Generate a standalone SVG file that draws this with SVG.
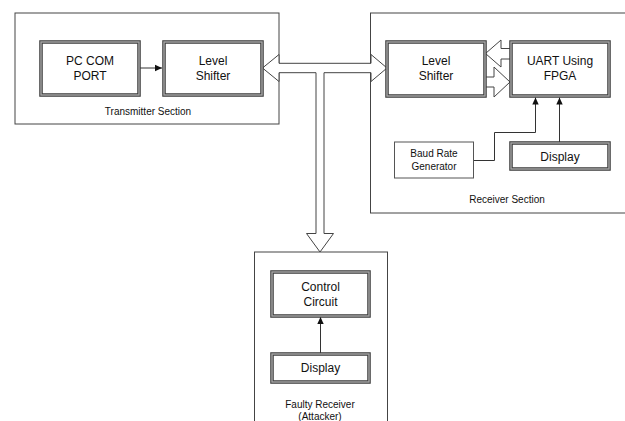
<svg xmlns="http://www.w3.org/2000/svg" width="625" height="421" viewBox="0 0 625 421">
<defs>
<marker id="ah" markerWidth="8" markerHeight="8" refX="7" refY="4" orient="auto" markerUnits="userSpaceOnUse">
<path d="M0,0.8 L7,4 L0,7.2 Z" fill="#111"/>
</marker>
<style>
text{font-family:"Liberation Sans",Arial,sans-serif;fill:#111;text-anchor:middle}
.lbl{font-size:12px}
.sm{font-size:10px}
.sec{fill:#fff;stroke:#444;stroke-width:1}
.dbo{fill:#fff;stroke:#3a3a3a;stroke-width:3.5}
.dbi{fill:none;stroke:#a8a8a8;stroke-width:1.4}
.thin{fill:#fff;stroke:#555;stroke-width:1}
.hollow{fill:#fff;stroke:#444;stroke-width:1;stroke-linejoin:miter}
.conn{fill:none;stroke:#333;stroke-width:1}
</style>
</defs>
<rect width="625" height="421" fill="#fff"/>

<g id="transmitter-section">
<rect class="sec" x="15" y="13" width="264" height="111"/>
<text class="sm" x="148" y="115">Transmitter Section</text>
</g>
<g id="receiver-section">
<rect class="sec" x="370.5" y="13" width="270" height="200"/>
<text class="sm" x="507" y="203">Receiver Section</text>
</g>
<g id="faulty-receiver">
<rect class="sec" x="254.5" y="252" width="133" height="190"/>
<text class="sm" x="320" y="408">Faulty Receiver</text>
<text class="sm" x="320" y="420">(Attacker)</text>
</g>

<g id="connectors">
<polygon class="hollow" points="262.5,68 279,54.5 279,63.3 371,63.3 371,54.5 387,68 371,81.5 371,72.7 324,72.7 324,233.5 333.5,233.5 320,252 306.5,233.5 316,233.5 316,72.7 279,72.7 279,81.5"/>
<polygon class="hollow" points="485.5,53.5 501,40 501,48.5 510.5,48.5 510.5,59 501,59 501,67"/>
<polygon class="hollow" points="510,82 494,67 494,77 485.5,77 485.5,87 494,87 494,97"/>
<line class="conn" x1="139" y1="68" x2="162" y2="68" marker-end="url(#ah)"/>
<polyline class="conn" points="473.5,160.5 494.5,160.5 494.5,132.5 535.5,132.5 535.5,97.5" marker-end="url(#ah)"/>
<line class="conn" x1="559.5" y1="142" x2="559.5" y2="97.5" marker-end="url(#ah)"/>
<line class="conn" x1="320.5" y1="353" x2="320.5" y2="317" marker-end="url(#ah)"/>
</g>

<g id="pc-com-port">
<rect class="dbo" x="41" y="42" width="98" height="53"/>
<rect class="dbi" x="41" y="42" width="98" height="53"/>
<text class="lbl" x="90" y="65">PC COM</text>
<text class="lbl" x="90" y="80">PORT</text>
</g>
<g id="level-shifter-tx">
<rect class="dbo" x="164" y="42" width="98" height="53"/>
<rect class="dbi" x="164" y="42" width="98" height="53"/>
<text class="lbl" x="213" y="64.5">Level</text>
<text class="lbl" x="213" y="79.5">Shifter</text>
</g>
<g id="level-shifter-rx">
<rect class="dbo" x="387" y="42" width="98" height="54"/>
<rect class="dbi" x="387" y="42" width="98" height="54"/>
<text class="lbl" x="436" y="65">Level</text>
<text class="lbl" x="436" y="80">Shifter</text>
</g>
<g id="uart-fpga">
<rect class="dbo" x="511" y="42" width="98" height="54"/>
<rect class="dbi" x="511" y="42" width="98" height="54"/>
<text class="lbl" x="560" y="65">UART Using</text>
<text class="lbl" x="560" y="80">FPGA</text>
</g>
<g id="baud-rate-generator">
<rect class="thin" x="394.5" y="142" width="79" height="36"/>
<text class="sm" x="434" y="157">Baud Rate</text>
<text class="sm" x="434" y="170">Generator</text>
</g>
<g id="display-rx">
<rect class="dbo" x="511" y="143" width="98" height="26"/>
<rect class="dbi" x="511" y="143" width="98" height="26"/>
<text class="lbl" x="560" y="160.5">Display</text>
</g>
<g id="control-circuit">
<rect class="dbo" x="272" y="272" width="97" height="44"/>
<rect class="dbi" x="272" y="272" width="97" height="44"/>
<text class="lbl" x="320.5" y="291">Control</text>
<text class="lbl" x="320.5" y="306">Circuit</text>
</g>
<g id="display-faulty">
<rect class="dbo" x="272" y="354" width="97" height="28"/>
<rect class="dbi" x="272" y="354" width="97" height="28"/>
<text class="lbl" x="320.5" y="372">Display</text>
</g>
</svg>
